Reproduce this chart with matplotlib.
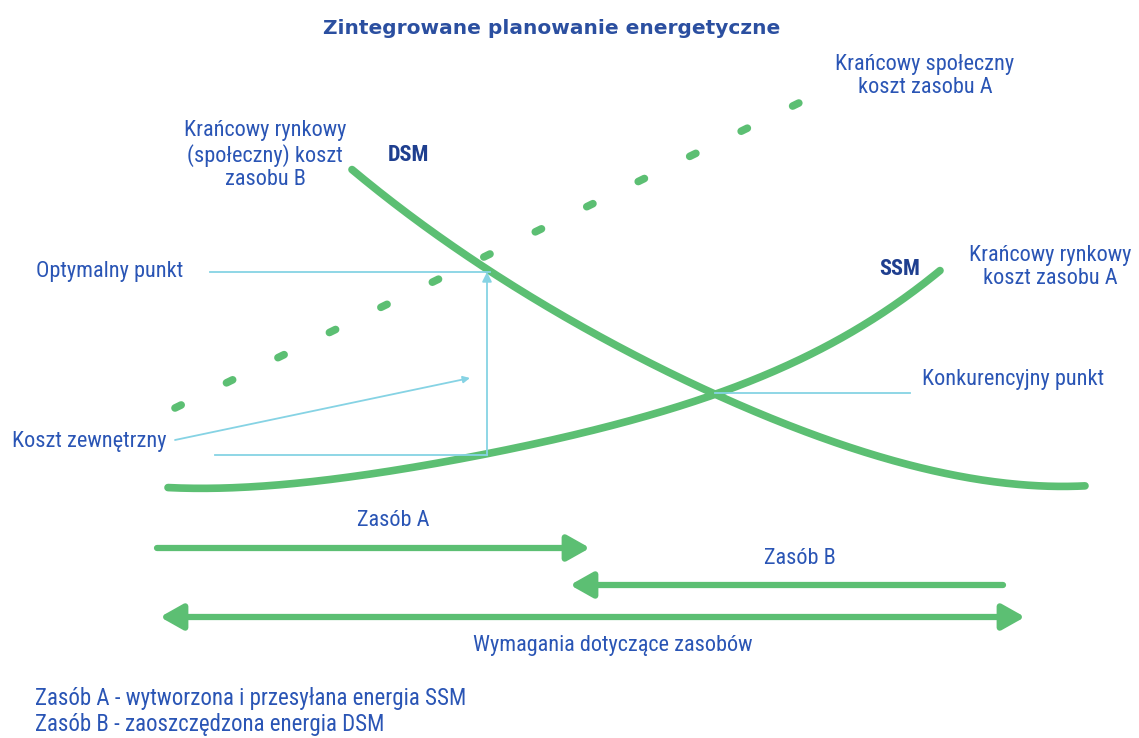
import numpy as np
import matplotlib.pyplot as plt

# Wspolrzedne w pikselach obrazu (x w prawo, y w dol)
dsm_x = [352, 400, 450, 490, 550, 620, 715, 800, 900, 1000, 1085]
dsm_y = [170, 207, 244, 272, 308, 348, 393, 430, 463, 482, 486]

ssm_x = [168, 250, 350, 487, 600, 715, 800, 870, 940]
ssm_y = [488, 486, 477, 455, 428, 393, 360, 322, 270]

spol_x = [175, 805]
spol_y = [408, 100]

strzalki = {
    "Zasób A": ((157, 548), (590, 548)),
    "Zasób B": ((1003, 585), (570, 585)),
}
wymagania = ((160, 617), (1025, 617))

green = "#5cbf73"
light = "#86d3e4"
blue = "#2a55b5"
navy = "#1f3f8f"

plt.rcParams["font.family"] = ["Roboto Condensed", "Liberation Sans Narrow", "DejaVu Sans"]
plt.rcParams["font.stretch"] = "condensed"

fig = plt.figure(figsize=(11.39, 7.38), dpi=100)
ax = fig.add_axes([0, 0, 1, 1])
ax.set_xlim(0, 1139)
ax.set_ylim(738, 0)
ax.axis("off")


def smooth(xs, ys, deg):
    # wygladzenie wielomianem y(x)
    xx = np.linspace(xs[0], xs[-1], 300)
    return xx, np.polyval(np.polyfit(xs, ys, deg), xx)


x, y = smooth(dsm_x, dsm_y, 4)
ax.plot(x, y, color=green, lw=5.5, solid_capstyle="round")
x, y = smooth(ssm_x, ssm_y, 4)
ax.plot(x, y, color=green, lw=5.5, solid_capstyle="round")
ax.plot(spol_x, spol_y, color=green, lw=5.5, dashes=(0.9, 6.6), dash_capstyle="round")

# cienkie linie pomocnicze
ax.plot([210, 490], [272, 272], color=light, lw=1.3)
ax.plot([215, 487], [455, 455], color=light, lw=1.3)
ax.plot([715, 910], [393, 393], color=light, lw=1.3)
ax.annotate("", xy=(487, 272), xytext=(487, 455),
            arrowprops=dict(arrowstyle="-|>", color=light, lw=1.3, mutation_scale=14,
                            shrinkA=0, shrinkB=0))
ax.annotate("", xy=(470, 378), xytext=(175, 440),
            arrowprops=dict(arrowstyle="-|>", color=light, lw=1.3, mutation_scale=10,
                            shrinkA=0, shrinkB=0))

for label, (a, b) in strzalki.items():
    ax.annotate("", xy=b, xytext=a,
                arrowprops=dict(arrowstyle="-|>,head_length=0.8,head_width=0.45",
                                color=green, lw=4.5, mutation_scale=17, shrinkA=0, shrinkB=0))
ax.annotate("", xy=wymagania[1], xytext=wymagania[0],
            arrowprops=dict(arrowstyle="<|-|>,head_length=0.8,head_width=0.45",
                            color=green, lw=4.5, mutation_scale=17, shrinkA=0, shrinkB=0))

fs = 16
ax.text(552, 28, "Zintegrowane planowanie energetyczne", ha="center", va="center",
        fontsize=14.5, fontweight="bold", color="#2b4fa0", family="DejaVu Sans",
        fontstretch="normal")
ax.text(265, 155, "Krańcowy rynkowy\n(społeczny) koszt\nzasobu B", ha="center", va="center",
        fontsize=fs, color=blue, linespacing=1.15)
ax.text(408, 155, "DSM", ha="center", va="center", fontsize=fs, fontweight="bold", color=navy)
ax.text(925, 76, "Krańcowy społeczny\nkoszt zasobu A", ha="center", va="center",
        fontsize=fs, color=blue, linespacing=1.15)
ax.text(900, 269, "SSM", ha="center", va="center", fontsize=fs, fontweight="bold", color=navy)
ax.text(1050, 267, "Krańcowy rynkowy\nkoszt zasobu A", ha="center", va="center",
        fontsize=fs, color=blue, linespacing=1.15)
ax.text(36, 272, "Optymalny punkt", ha="left", va="center", fontsize=fs, color=blue)
ax.text(12, 441, "Koszt zewnętrzny", ha="left", va="center", fontsize=fs, color=blue)
ax.text(922, 380, "Konkurencyjny punkt", ha="left", va="center", fontsize=fs, color=blue)
ax.text(393, 520, "Zasób A", ha="center", va="center", fontsize=fs, color=blue)
ax.text(800, 558, "Zasób B", ha="center", va="center", fontsize=fs, color=blue)
ax.text(613, 646, "Wymagania dotyczące zasobów", ha="center", va="center", fontsize=fs, color=blue)
ax.text(35, 699, "Zasób A - wytworzona i przesyłana energia SSM", ha="left", va="center",
        fontsize=16.5, color=blue)
ax.text(35, 725, "Zasób B - zaoszczędzona energia DSM", ha="left", va="center",
        fontsize=16.5, color=blue)

fig.savefig("out.png", dpi=100, facecolor="white")
